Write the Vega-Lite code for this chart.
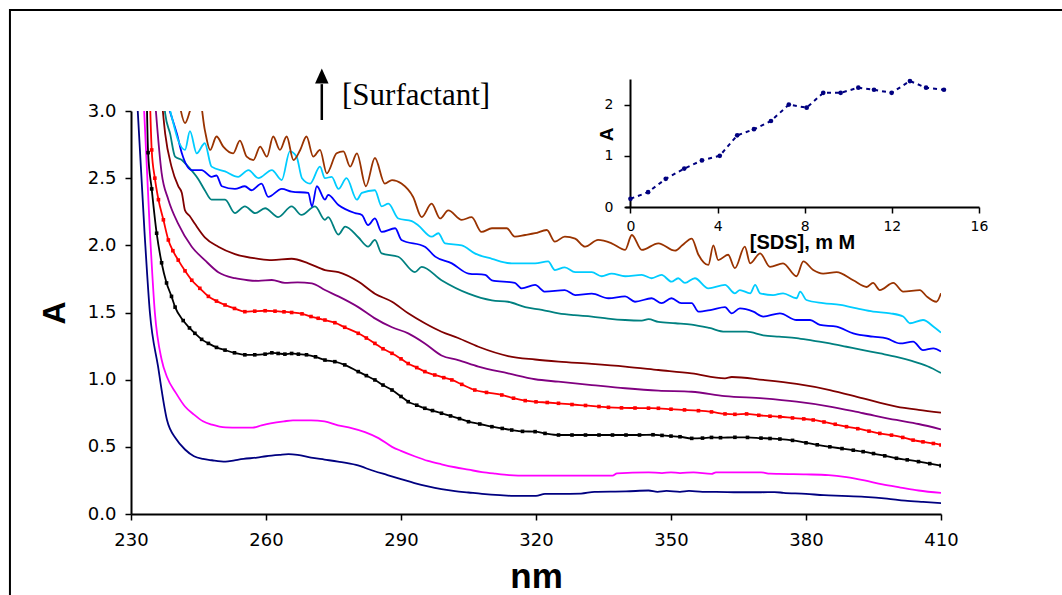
{
"$schema": "https://vega.github.io/schema/vega-lite/v6.json",
"width": 810, "height": 403,
"autosize": {"type": "none"},
"padding": {"left": 131, "top": 111, "right": 121, "bottom": 81},
"background": "white",
"config": {"view": {"stroke": null}, "axis": {"grid": false, "labelFlush": false, "domainColor": "black", "tickColor": "black", "labelColor": "black", "titleColor": "black", "domainWidth": 2, "tickWidth": 1.5}},
"datasets": {
"border": [{"nm": 203.1, "nm2": 470, "A": 3.752, "A2": -1.2}],
"arrow": [{"nm": 272.4, "A": 2.933, "A2": 3.2}],
"head": [{"nm": 272.4, "A": 3.26}],
"note": [{"nm": 276.9, "A": 3.045, "label": "[Surfactant]"}],
"inset": [
{"sds":0,"abs":0.16},{"sds":0.81,"abs":0.29},{"sds":1.62,"abs":0.55},{"sds":2.47,"abs":0.75},{"sds":3.28,"abs":0.91},{"sds":4.1,"abs":1.0},{"sds":4.9,"abs":1.4},{"sds":5.67,"abs":1.52},{"sds":6.45,"abs":1.68},{"sds":7.27,"abs":2.0},{"sds":8.09,"abs":1.94},{"sds":8.85,"abs":2.23},{"sds":9.65,"abs":2.23},{"sds":10.46,"abs":2.33},{"sds":11.18,"abs":2.29},{"sds":11.99,"abs":2.23},{"sds":12.83,"abs":2.46},{"sds":13.57,"abs":2.33},{"sds":14.39,"abs":2.29}
],
"spec": [
{"c":"1","nm":231,"A":3.3},{"c":"1","nm":233,"A":2.1},{"c":"1","nm":234.2,"A":1.5},{"c":"1","nm":236,"A":1.1},{"c":"1","nm":238,"A":0.7},{"c":"1","nm":240,"A":0.56},{"c":"1","nm":242,"A":0.48},{"c":"1","nm":244,"A":0.43},{"c":"1","nm":246,"A":0.41},{"c":"1","nm":248,"A":0.4},{"c":"1","nm":251,"A":0.39},{"c":"1","nm":253,"A":0.4},{"c":"1","nm":255,"A":0.41},{"c":"1","nm":258,"A":0.42},{"c":"1","nm":260,"A":0.43},{"c":"1","nm":263,"A":0.44},{"c":"1","nm":265,"A":0.445},{"c":"1","nm":267,"A":0.44},{"c":"1","nm":270,"A":0.42},{"c":"1","nm":273,"A":0.405},{"c":"1","nm":276,"A":0.39},{"c":"1","nm":280,"A":0.365},{"c":"1","nm":284,"A":0.32},{"c":"1","nm":287,"A":0.29},{"c":"1","nm":290,"A":0.26},{"c":"1","nm":293,"A":0.23},{"c":"1","nm":296,"A":0.205},{"c":"1","nm":299,"A":0.185},{"c":"1","nm":302,"A":0.17},{"c":"1","nm":305,"A":0.16},{"c":"1","nm":308,"A":0.15},{"c":"1","nm":312,"A":0.14},{"c":"1","nm":315,"A":0.135},{"c":"1","nm":320,"A":0.135},{"c":"1","nm":322,"A":0.15},{"c":"1","nm":325,"A":0.15},{"c":"1","nm":330,"A":0.152},{"c":"1","nm":333,"A":0.165},{"c":"1","nm":340,"A":0.168},{"c":"1","nm":345,"A":0.175},{"c":"1","nm":347,"A":0.165},{"c":"1","nm":349,"A":0.172},{"c":"1","nm":352,"A":0.165},{"c":"1","nm":354,"A":0.172},{"c":"1","nm":357,"A":0.165},{"c":"1","nm":360,"A":0.165},{"c":"1","nm":365,"A":0.162},{"c":"1","nm":370,"A":0.162},{"c":"1","nm":373,"A":0.163},{"c":"1","nm":375,"A":0.158},{"c":"1","nm":380,"A":0.15},{"c":"1","nm":384,"A":0.14},{"c":"1","nm":388,"A":0.135},{"c":"1","nm":393,"A":0.128},{"c":"1","nm":398,"A":0.115},{"c":"1","nm":402,"A":0.1},{"c":"1","nm":406,"A":0.09},{"c":"1","nm":410.5,"A":0.08},
{"c":"2","nm":232.5,"A":3.3},{"c":"2","nm":234.2,"A":2.1},{"c":"2","nm":235.3,"A":1.5},{"c":"2","nm":236.8,"A":1.15},{"c":"2","nm":238,"A":1.02},{"c":"2","nm":240,"A":0.9},{"c":"2","nm":242,"A":0.8},{"c":"2","nm":244,"A":0.74},{"c":"2","nm":246,"A":0.69},{"c":"2","nm":248,"A":0.665},{"c":"2","nm":251,"A":0.645},{"c":"2","nm":254,"A":0.643},{"c":"2","nm":257,"A":0.643},{"c":"2","nm":259,"A":0.66},{"c":"2","nm":261,"A":0.675},{"c":"2","nm":264,"A":0.69},{"c":"2","nm":266,"A":0.697},{"c":"2","nm":270,"A":0.697},{"c":"2","nm":273,"A":0.69},{"c":"2","nm":276,"A":0.66},{"c":"2","nm":279,"A":0.64},{"c":"2","nm":282,"A":0.61},{"c":"2","nm":285,"A":0.565},{"c":"2","nm":288,"A":0.5},{"c":"2","nm":290,"A":0.47},{"c":"2","nm":293,"A":0.43},{"c":"2","nm":296,"A":0.395},{"c":"2","nm":299,"A":0.37},{"c":"2","nm":302,"A":0.348},{"c":"2","nm":305,"A":0.33},{"c":"2","nm":308,"A":0.312},{"c":"2","nm":311,"A":0.3},{"c":"2","nm":314,"A":0.29},{"c":"2","nm":318,"A":0.285},{"c":"2","nm":325,"A":0.285},{"c":"2","nm":337,"A":0.285},{"c":"2","nm":338,"A":0.302},{"c":"2","nm":345,"A":0.31},{"c":"2","nm":348,"A":0.305},{"c":"2","nm":350,"A":0.31},{"c":"2","nm":352,"A":0.305},{"c":"2","nm":355,"A":0.31},{"c":"2","nm":359,"A":0.298},{"c":"2","nm":360,"A":0.31},{"c":"2","nm":366,"A":0.31},{"c":"2","nm":370,"A":0.31},{"c":"2","nm":372,"A":0.3},{"c":"2","nm":374,"A":0.298},{"c":"2","nm":380,"A":0.295},{"c":"2","nm":385,"A":0.29},{"c":"2","nm":389,"A":0.275},{"c":"2","nm":393,"A":0.25},{"c":"2","nm":397,"A":0.22},{"c":"2","nm":401,"A":0.197},{"c":"2","nm":405,"A":0.175},{"c":"2","nm":410.5,"A":0.155},
{"c":"3","nm":233.5,"A":3.1},{"c":"3","nm":233.8,"A":2.69},{"c":"3","nm":234.6,"A":2.42},{"c":"3","nm":235.7,"A":2.09},{"c":"3","nm":236.8,"A":1.87},{"c":"3","nm":237.9,"A":1.72},{"c":"3","nm":239,"A":1.62},{"c":"3","nm":239.8,"A":1.54},{"c":"3","nm":241.6,"A":1.44},{"c":"3","nm":243,"A":1.385},{"c":"3","nm":244.2,"A":1.345},{"c":"3","nm":245.7,"A":1.3},{"c":"3","nm":247.2,"A":1.27},{"c":"3","nm":249,"A":1.24},{"c":"3","nm":250.9,"A":1.22},{"c":"3","nm":253,"A":1.2},{"c":"3","nm":255.3,"A":1.185},{"c":"3","nm":257.5,"A":1.185},{"c":"3","nm":259.8,"A":1.19},{"c":"3","nm":261.3,"A":1.2},{"c":"3","nm":262.7,"A":1.195},{"c":"3","nm":264.2,"A":1.19},{"c":"3","nm":265.7,"A":1.195},{"c":"3","nm":267.2,"A":1.19},{"c":"3","nm":269,"A":1.185},{"c":"3","nm":271,"A":1.17},{"c":"3","nm":273.1,"A":1.146},{"c":"3","nm":275.3,"A":1.134},{"c":"3","nm":277.5,"A":1.11},{"c":"3","nm":280.5,"A":1.06},{"c":"3","nm":282.3,"A":1.03},{"c":"3","nm":284.2,"A":0.998},{"c":"3","nm":286,"A":0.96},{"c":"3","nm":288,"A":0.923},{"c":"3","nm":290,"A":0.875},{"c":"3","nm":291.6,"A":0.836},{"c":"3","nm":293.5,"A":0.81},{"c":"3","nm":295.3,"A":0.787},{"c":"3","nm":297,"A":0.77},{"c":"3","nm":299,"A":0.75},{"c":"3","nm":301,"A":0.73},{"c":"3","nm":303,"A":0.71},{"c":"3","nm":305,"A":0.687},{"c":"3","nm":307.5,"A":0.67},{"c":"3","nm":310.2,"A":0.65},{"c":"3","nm":312.5,"A":0.637},{"c":"3","nm":314.6,"A":0.625},{"c":"3","nm":317,"A":0.615},{"c":"3","nm":319.8,"A":0.613},{"c":"3","nm":322,"A":0.6},{"c":"3","nm":325,"A":0.588},{"c":"3","nm":328,"A":0.588},{"c":"3","nm":331,"A":0.588},{"c":"3","nm":334,"A":0.588},{"c":"3","nm":337,"A":0.588},{"c":"3","nm":340,"A":0.588},{"c":"3","nm":343,"A":0.588},{"c":"3","nm":346,"A":0.59},{"c":"3","nm":348,"A":0.585},{"c":"3","nm":350,"A":0.58},{"c":"3","nm":352,"A":0.575},{"c":"3","nm":354.6,"A":0.563},{"c":"3","nm":357,"A":0.565},{"c":"3","nm":359,"A":0.57},{"c":"3","nm":361,"A":0.568},{"c":"3","nm":364.2,"A":0.571},{"c":"3","nm":367,"A":0.57},{"c":"3","nm":370,"A":0.565},{"c":"3","nm":372,"A":0.562},{"c":"3","nm":374.2,"A":0.558},{"c":"3","nm":377,"A":0.548},{"c":"3","nm":380,"A":0.53},{"c":"3","nm":382.5,"A":0.515},{"c":"3","nm":385.3,"A":0.5},{"c":"3","nm":388,"A":0.487},{"c":"3","nm":390.5,"A":0.475},{"c":"3","nm":392.7,"A":0.464},{"c":"3","nm":395,"A":0.45},{"c":"3","nm":397.5,"A":0.433},{"c":"3","nm":400.1,"A":0.415},{"c":"3","nm":402.5,"A":0.403},{"c":"3","nm":405,"A":0.39},{"c":"3","nm":407.5,"A":0.375},{"c":"3","nm":410,"A":0.36},
{"c":"4","nm":234.2,"A":3.1},{"c":"4","nm":234.6,"A":2.71},{"c":"4","nm":235.3,"A":2.5},{"c":"4","nm":236.1,"A":2.34},{"c":"4","nm":237.2,"A":2.19},{"c":"4","nm":238.3,"A":2.04},{"c":"4","nm":239.3,"A":1.96},{"c":"4","nm":240.5,"A":1.89},{"c":"4","nm":242,"A":1.81},{"c":"4","nm":243.5,"A":1.74},{"c":"4","nm":245.3,"A":1.68},{"c":"4","nm":247.2,"A":1.62},{"c":"4","nm":249,"A":1.585},{"c":"4","nm":250.9,"A":1.556},{"c":"4","nm":253,"A":1.53},{"c":"4","nm":255.3,"A":1.506},{"c":"4","nm":257.5,"A":1.51},{"c":"4","nm":259.8,"A":1.513},{"c":"4","nm":262,"A":1.51},{"c":"4","nm":264,"A":1.505},{"c":"4","nm":265.7,"A":1.5},{"c":"4","nm":268,"A":1.49},{"c":"4","nm":270,"A":1.47},{"c":"4","nm":271.6,"A":1.457},{"c":"4","nm":273.1,"A":1.444},{"c":"4","nm":275.3,"A":1.424},{"c":"4","nm":277.5,"A":1.39},{"c":"4","nm":280.5,"A":1.345},{"c":"4","nm":282.3,"A":1.31},{"c":"4","nm":284.2,"A":1.27},{"c":"4","nm":286,"A":1.23},{"c":"4","nm":288,"A":1.196},{"c":"4","nm":290,"A":1.155},{"c":"4","nm":291.6,"A":1.12},{"c":"4","nm":293.5,"A":1.09},{"c":"4","nm":295.3,"A":1.06},{"c":"4","nm":297.5,"A":1.035},{"c":"4","nm":299.5,"A":1.015},{"c":"4","nm":301.3,"A":0.998},{"c":"4","nm":303.5,"A":0.965},{"c":"4","nm":306.4,"A":0.923},{"c":"4","nm":309,"A":0.905},{"c":"4","nm":312.4,"A":0.886},{"c":"4","nm":315,"A":0.862},{"c":"4","nm":317.6,"A":0.844},{"c":"4","nm":320,"A":0.835},{"c":"4","nm":322.5,"A":0.83},{"c":"4","nm":325,"A":0.824},{"c":"4","nm":328,"A":0.815},{"c":"4","nm":331,"A":0.808},{"c":"4","nm":334,"A":0.8},{"c":"4","nm":336.1,"A":0.794},{"c":"4","nm":339,"A":0.79},{"c":"4","nm":342,"A":0.789},{"c":"4","nm":345,"A":0.788},{"c":"4","nm":347.2,"A":0.787},{"c":"4","nm":350,"A":0.78},{"c":"4","nm":353,"A":0.775},{"c":"4","nm":356.1,"A":0.769},{"c":"4","nm":359,"A":0.76},{"c":"4","nm":362,"A":0.745},{"c":"4","nm":364.2,"A":0.742},{"c":"4","nm":366.8,"A":0.745},{"c":"4","nm":369.5,"A":0.735},{"c":"4","nm":372,"A":0.728},{"c":"4","nm":374.2,"A":0.724},{"c":"4","nm":377,"A":0.715},{"c":"4","nm":379.5,"A":0.708},{"c":"4","nm":381.6,"A":0.7},{"c":"4","nm":384,"A":0.685},{"c":"4","nm":386.5,"A":0.668},{"c":"4","nm":389,"A":0.65},{"c":"4","nm":391.5,"A":0.635},{"c":"4","nm":394,"A":0.617},{"c":"4","nm":396.4,"A":0.6},{"c":"4","nm":399,"A":0.587},{"c":"4","nm":401.5,"A":0.57},{"c":"4","nm":403.8,"A":0.55},{"c":"4","nm":406,"A":0.537},{"c":"4","nm":408.3,"A":0.525},{"c":"4","nm":410,"A":0.514},
{"c":"5","nm":235.3,"A":3.1},{"c":"5","nm":236.8,"A":2.54},{"c":"5","nm":238.3,"A":2.34},{"c":"5","nm":240.5,"A":2.16},{"c":"5","nm":243.5,"A":1.99},{"c":"5","nm":246.4,"A":1.89},{"c":"5","nm":249.4,"A":1.8},{"c":"5","nm":253.1,"A":1.755},{"c":"5","nm":256,"A":1.74},{"c":"5","nm":258.3,"A":1.735},{"c":"5","nm":261.3,"A":1.742},{"c":"5","nm":264.2,"A":1.72},{"c":"5","nm":267,"A":1.725},{"c":"5","nm":270.2,"A":1.717},{"c":"5","nm":273.1,"A":1.667},{"c":"5","nm":276.1,"A":1.62},{"c":"5","nm":280.5,"A":1.54},{"c":"5","nm":284,"A":1.46},{"c":"5","nm":288,"A":1.39},{"c":"5","nm":291.6,"A":1.345},{"c":"5","nm":295.3,"A":1.27},{"c":"5","nm":299,"A":1.18},{"c":"5","nm":302.7,"A":1.146},{"c":"5","nm":307.2,"A":1.097},{"c":"5","nm":313.8,"A":1.047},{"c":"5","nm":319.8,"A":1.003},{"c":"5","nm":325,"A":0.985},{"c":"5","nm":332.4,"A":0.96},{"c":"5","nm":339.8,"A":0.936},{"c":"5","nm":347.2,"A":0.918},{"c":"5","nm":354.6,"A":0.91},{"c":"5","nm":362,"A":0.878},{"c":"5","nm":370.5,"A":0.86},{"c":"5","nm":377.9,"A":0.836},{"c":"5","nm":385.3,"A":0.8},{"c":"5","nm":392.7,"A":0.75},{"c":"5","nm":400.1,"A":0.7},{"c":"5","nm":405,"A":0.67},{"c":"5","nm":410,"A":0.63},
{"c":"6","nm":236.8,"A":3.1},{"c":"6","nm":237.6,"A":2.83},{"c":"6","nm":239,"A":2.586},{"c":"6","nm":240.5,"A":2.44},{"c":"6","nm":241.3,"A":2.39},{"c":"6","nm":242,"A":2.26},{"c":"6","nm":243,"A":2.22},{"c":"6","nm":244.2,"A":2.16},{"c":"6","nm":246.4,"A":2.06},{"c":"6","nm":249.4,"A":1.99},{"c":"6","nm":253.1,"A":1.935},{"c":"6","nm":258.3,"A":1.9},{"c":"6","nm":261.3,"A":1.89},{"c":"6","nm":265.7,"A":1.9},{"c":"6","nm":269.4,"A":1.866},{"c":"6","nm":273.1,"A":1.816},{"c":"6","nm":276.1,"A":1.8},{"c":"6","nm":280.5,"A":1.73},{"c":"6","nm":284.2,"A":1.64},{"c":"6","nm":288,"A":1.58},{"c":"6","nm":291.6,"A":1.494},{"c":"6","nm":295.3,"A":1.42},{"c":"6","nm":299,"A":1.357},{"c":"6","nm":302.7,"A":1.31},{"c":"6","nm":307.2,"A":1.245},{"c":"6","nm":313.8,"A":1.176},{"c":"6","nm":319.8,"A":1.15},{"c":"6","nm":325,"A":1.134},{"c":"6","nm":332.4,"A":1.117},{"c":"6","nm":339.8,"A":1.097},{"c":"6","nm":347.2,"A":1.072},{"c":"6","nm":354.6,"A":1.047},{"c":"6","nm":362,"A":1.01},{"c":"6","nm":363.5,"A":1.02},{"c":"6","nm":370.5,"A":0.998},{"c":"6","nm":377.9,"A":0.968},{"c":"6","nm":385.3,"A":0.923},{"c":"6","nm":392.7,"A":0.86},{"c":"6","nm":400.1,"A":0.8},{"c":"6","nm":405,"A":0.775},{"c":"6","nm":410,"A":0.754},
{"c":"7","nm":237.3,"A":3.1},{"c":"7","nm":237.6,"A":2.98},{"c":"7","nm":238.7,"A":2.83},{"c":"7","nm":239.8,"A":2.66},{"c":"7","nm":241.3,"A":2.635},{"c":"7","nm":242.7,"A":2.586},{"c":"7","nm":245,"A":2.49},{"c":"7","nm":246.4,"A":2.41},{"c":"7","nm":247.9,"A":2.34},{"c":"7","nm":250.9,"A":2.34},{"c":"7","nm":253.1,"A":2.24},{"c":"7","nm":255.3,"A":2.29},{"c":"7","nm":257.6,"A":2.24},{"c":"7","nm":259.8,"A":2.276},{"c":"7","nm":262.7,"A":2.21},{"c":"7","nm":265.7,"A":2.29},{"c":"7","nm":267.9,"A":2.226},{"c":"7","nm":270.9,"A":2.29},{"c":"7","nm":273.1,"A":2.19},{"c":"7","nm":273.8,"A":2.21},{"c":"7","nm":276.1,"A":2.08},{"c":"7","nm":277.6,"A":2.14},{"c":"7","nm":280.5,"A":2.06},{"c":"7","nm":282.7,"A":1.99},{"c":"7","nm":284.2,"A":2.04},{"c":"7","nm":285.7,"A":1.94},{"c":"7","nm":289.4,"A":1.915},{"c":"7","nm":293.1,"A":1.8},{"c":"7","nm":294.6,"A":1.84},{"c":"7","nm":299,"A":1.74},{"c":"7","nm":305,"A":1.64},{"c":"7","nm":310.2,"A":1.59},{"c":"7","nm":313.8,"A":1.58},{"c":"7","nm":317.6,"A":1.54},{"c":"7","nm":321.3,"A":1.52},{"c":"7","nm":325,"A":1.494},{"c":"7","nm":328.5,"A":1.48},{"c":"7","nm":332.4,"A":1.47},{"c":"7","nm":336,"A":1.455},{"c":"7","nm":339.8,"A":1.444},{"c":"7","nm":343.5,"A":1.44},{"c":"7","nm":345,"A":1.45},{"c":"7","nm":347.2,"A":1.43},{"c":"7","nm":351,"A":1.42},{"c":"7","nm":354.6,"A":1.41},{"c":"7","nm":358.5,"A":1.385},{"c":"7","nm":362,"A":1.357},{"c":"7","nm":366.8,"A":1.357},{"c":"7","nm":370.5,"A":1.33},{"c":"7","nm":374,"A":1.32},{"c":"7","nm":377.9,"A":1.31},{"c":"7","nm":381.5,"A":1.29},{"c":"7","nm":385.3,"A":1.27},{"c":"7","nm":389,"A":1.245},{"c":"7","nm":392.7,"A":1.22},{"c":"7","nm":396.5,"A":1.195},{"c":"7","nm":400.1,"A":1.17},{"c":"7","nm":403.5,"A":1.14},{"c":"7","nm":407,"A":1.1},{"c":"7","nm":410,"A":1.05},
{"c":"8","nm":237.6,"A":3.1},{"c":"8","nm":239,"A":2.96},{"c":"8","nm":240.2,"A":2.83},{"c":"8","nm":241.3,"A":2.685},{"c":"8","nm":243.5,"A":2.56},{"c":"8","nm":245.7,"A":2.56},{"c":"8","nm":247.9,"A":2.51},{"c":"8","nm":249,"A":2.52},{"c":"8","nm":250.2,"A":2.44},{"c":"8","nm":253.1,"A":2.42},{"c":"8","nm":255.3,"A":2.44},{"c":"8","nm":256.8,"A":2.41},{"c":"8","nm":259,"A":2.46},{"c":"8","nm":260.5,"A":2.36},{"c":"8","nm":263.5,"A":2.42},{"c":"8","nm":265.7,"A":2.4},{"c":"8","nm":269.4,"A":2.39},{"c":"8","nm":270.2,"A":2.29},{"c":"8","nm":271.3,"A":2.44},{"c":"8","nm":273.1,"A":2.34},{"c":"8","nm":273.8,"A":2.375},{"c":"8","nm":276.1,"A":2.3},{"c":"8","nm":279.8,"A":2.24},{"c":"8","nm":281.3,"A":2.226},{"c":"8","nm":282.7,"A":2.15},{"c":"8","nm":284.2,"A":2.2},{"c":"8","nm":285.7,"A":2.1},{"c":"8","nm":288.7,"A":2.127},{"c":"8","nm":290.1,"A":2.04},{"c":"8","nm":295.3,"A":1.99},{"c":"8","nm":297.6,"A":1.916},{"c":"8","nm":301.3,"A":1.866},{"c":"8","nm":305,"A":1.79},{"c":"8","nm":308.7,"A":1.78},{"c":"8","nm":310.2,"A":1.74},{"c":"8","nm":315.3,"A":1.72},{"c":"8","nm":316.8,"A":1.68},{"c":"8","nm":319.8,"A":1.705},{"c":"8","nm":322,"A":1.655},{"c":"8","nm":326.4,"A":1.667},{"c":"8","nm":328.7,"A":1.63},{"c":"8","nm":332.4,"A":1.64},{"c":"8","nm":336.1,"A":1.606},{"c":"8","nm":339.8,"A":1.62},{"c":"8","nm":342,"A":1.58},{"c":"8","nm":345.7,"A":1.606},{"c":"8","nm":347.9,"A":1.57},{"c":"8","nm":350.1,"A":1.606},{"c":"8","nm":352.3,"A":1.57},{"c":"8","nm":354.6,"A":1.57},{"c":"8","nm":356.1,"A":1.506},{"c":"8","nm":359,"A":1.52},{"c":"8","nm":362,"A":1.54},{"c":"8","nm":363.5,"A":1.494},{"c":"8","nm":365.3,"A":1.53},{"c":"8","nm":368.3,"A":1.506},{"c":"8","nm":370.5,"A":1.47},{"c":"8","nm":374.2,"A":1.494},{"c":"8","nm":377.9,"A":1.444},{"c":"8","nm":380.9,"A":1.444},{"c":"8","nm":383.1,"A":1.407},{"c":"8","nm":386.8,"A":1.394},{"c":"8","nm":390.5,"A":1.345},{"c":"8","nm":394.9,"A":1.32},{"c":"8","nm":397.9,"A":1.307},{"c":"8","nm":400.9,"A":1.27},{"c":"8","nm":403.8,"A":1.283},{"c":"8","nm":406,"A":1.22},{"c":"8","nm":408.3,"A":1.233},{"c":"8","nm":410,"A":1.21},
{"c":"9","nm":238,"A":3.1},{"c":"9","nm":239.4,"A":2.91},{"c":"9","nm":240.5,"A":2.78},{"c":"9","nm":242,"A":2.71},{"c":"9","nm":243.1,"A":2.85},{"c":"9","nm":244.6,"A":2.685},{"c":"9","nm":246.4,"A":2.76},{"c":"9","nm":247.9,"A":2.586},{"c":"9","nm":250.9,"A":2.55},{"c":"9","nm":253.8,"A":2.51},{"c":"9","nm":256.1,"A":2.56},{"c":"9","nm":258.3,"A":2.5},{"c":"9","nm":261.3,"A":2.56},{"c":"9","nm":263.5,"A":2.486},{"c":"9","nm":265.3,"A":2.7},{"c":"9","nm":266.8,"A":2.66},{"c":"9","nm":268,"A":2.5},{"c":"9","nm":269.8,"A":2.46},{"c":"9","nm":272,"A":2.586},{"c":"9","nm":273.1,"A":2.5},{"c":"9","nm":274.6,"A":2.51},{"c":"9","nm":276.1,"A":2.42},{"c":"9","nm":277.9,"A":2.5},{"c":"9","nm":280.2,"A":2.34},{"c":"9","nm":281.3,"A":2.39},{"c":"9","nm":284.2,"A":2.41},{"c":"9","nm":285.7,"A":2.29},{"c":"9","nm":287.2,"A":2.31},{"c":"9","nm":289.4,"A":2.2},{"c":"9","nm":292.4,"A":2.18},{"c":"9","nm":293.8,"A":2.15},{"c":"9","nm":296.8,"A":2.065},{"c":"9","nm":298.3,"A":2.09},{"c":"9","nm":299.8,"A":2.015},{"c":"9","nm":303.5,"A":2.0},{"c":"9","nm":306.4,"A":1.94},{"c":"9","nm":310.2,"A":1.9},{"c":"9","nm":314.6,"A":1.866},{"c":"9","nm":319.8,"A":1.866},{"c":"9","nm":322.7,"A":1.88},{"c":"9","nm":324.2,"A":1.816},{"c":"9","nm":326.4,"A":1.836},{"c":"9","nm":328.7,"A":1.8},{"c":"9","nm":332.4,"A":1.8},{"c":"9","nm":334.6,"A":1.77},{"c":"9","nm":336.8,"A":1.79},{"c":"9","nm":339.8,"A":1.77},{"c":"9","nm":343.5,"A":1.78},{"c":"9","nm":345.7,"A":1.755},{"c":"9","nm":347.9,"A":1.78},{"c":"9","nm":350.1,"A":1.73},{"c":"9","nm":351.6,"A":1.755},{"c":"9","nm":353.1,"A":1.72},{"c":"9","nm":355.3,"A":1.755},{"c":"9","nm":358.3,"A":1.68},{"c":"9","nm":362,"A":1.705},{"c":"9","nm":364.2,"A":1.643},{"c":"9","nm":365.3,"A":1.667},{"c":"9","nm":367.6,"A":1.643},{"c":"9","nm":368.7,"A":1.705},{"c":"9","nm":369.8,"A":1.643},{"c":"9","nm":372.7,"A":1.63},{"c":"9","nm":374.9,"A":1.643},{"c":"9","nm":377.9,"A":1.606},{"c":"9","nm":378.7,"A":1.655},{"c":"9","nm":380.1,"A":1.593},{"c":"9","nm":383.8,"A":1.57},{"c":"9","nm":387.6,"A":1.556},{"c":"9","nm":391.3,"A":1.53},{"c":"9","nm":394.9,"A":1.506},{"c":"9","nm":398.7,"A":1.494},{"c":"9","nm":401.6,"A":1.47},{"c":"9","nm":403.1,"A":1.42},{"c":"9","nm":406,"A":1.444},{"c":"9","nm":408.5,"A":1.39},{"c":"9","nm":410,"A":1.35},
{"c":"10","nm":240.5,"A":3.1},{"c":"10","nm":240.9,"A":3.03},{"c":"10","nm":242,"A":2.91},{"c":"10","nm":243.1,"A":3.0},{"c":"10","nm":244,"A":3.1},{"c":"10","nm":245.2,"A":3.1},{"c":"10","nm":246.4,"A":2.86},{"c":"10","nm":247.6,"A":2.71},{"c":"10","nm":249,"A":2.81},{"c":"10","nm":250.5,"A":2.735},{"c":"10","nm":252.7,"A":2.685},{"c":"10","nm":254.2,"A":2.78},{"c":"10","nm":255.7,"A":2.66},{"c":"10","nm":257.2,"A":2.635},{"c":"10","nm":258.7,"A":2.735},{"c":"10","nm":260.2,"A":2.66},{"c":"10","nm":261.6,"A":2.81},{"c":"10","nm":263.1,"A":2.71},{"c":"10","nm":264.6,"A":2.81},{"c":"10","nm":266.1,"A":2.635},{"c":"10","nm":267.6,"A":2.71},{"c":"10","nm":269,"A":2.81},{"c":"10","nm":270.5,"A":2.66},{"c":"10","nm":272,"A":2.71},{"c":"10","nm":273.5,"A":2.536},{"c":"10","nm":275.7,"A":2.685},{"c":"10","nm":277.2,"A":2.7},{"c":"10","nm":278.7,"A":2.586},{"c":"10","nm":280.2,"A":2.685},{"c":"10","nm":282.2,"A":2.44},{"c":"10","nm":284.2,"A":2.65},{"c":"10","nm":286.4,"A":2.46},{"c":"10","nm":288,"A":2.486},{"c":"10","nm":290.1,"A":2.46},{"c":"10","nm":292.7,"A":2.36},{"c":"10","nm":294.6,"A":2.21},{"c":"10","nm":296.8,"A":2.31},{"c":"10","nm":298.7,"A":2.2},{"c":"10","nm":300.5,"A":2.26},{"c":"10","nm":303.5,"A":2.19},{"c":"10","nm":305.7,"A":2.21},{"c":"10","nm":307.9,"A":2.1},{"c":"10","nm":310.2,"A":2.127},{"c":"10","nm":313.5,"A":2.127},{"c":"10","nm":315.3,"A":2.065},{"c":"10","nm":317.6,"A":2.077},{"c":"10","nm":319.8,"A":2.09},{"c":"10","nm":322.4,"A":2.114},{"c":"10","nm":324.2,"A":2.027},{"c":"10","nm":326.4,"A":2.065},{"c":"10","nm":328.7,"A":2.05},{"c":"10","nm":330.9,"A":1.99},{"c":"10","nm":333.8,"A":2.04},{"c":"10","nm":336.8,"A":2.015},{"c":"10","nm":339.8,"A":1.966},{"c":"10","nm":341.3,"A":2.077},{"c":"10","nm":343.5,"A":1.966},{"c":"10","nm":347.2,"A":2.015},{"c":"10","nm":350.9,"A":1.96},{"c":"10","nm":352.5,"A":2.0},{"c":"10","nm":354.6,"A":2.05},{"c":"10","nm":356.1,"A":1.93},{"c":"10","nm":358.3,"A":1.854},{"c":"10","nm":359.4,"A":2.0},{"c":"10","nm":360.5,"A":1.89},{"c":"10","nm":362.7,"A":1.93},{"c":"10","nm":364.2,"A":1.83},{"c":"10","nm":366.4,"A":1.99},{"c":"10","nm":367.6,"A":1.866},{"c":"10","nm":369.8,"A":1.94},{"c":"10","nm":372,"A":1.84},{"c":"10","nm":374.9,"A":1.866},{"c":"10","nm":377.9,"A":1.77},{"c":"10","nm":379.4,"A":1.88},{"c":"10","nm":381.6,"A":1.816},{"c":"10","nm":383.8,"A":1.79},{"c":"10","nm":386.8,"A":1.8},{"c":"10","nm":390.5,"A":1.74},{"c":"10","nm":393.5,"A":1.69},{"c":"10","nm":394.9,"A":1.72},{"c":"10","nm":396.4,"A":1.667},{"c":"10","nm":399.4,"A":1.72},{"c":"10","nm":401.6,"A":1.655},{"c":"10","nm":405.3,"A":1.667},{"c":"10","nm":406.8,"A":1.62},{"c":"10","nm":409,"A":1.58},{"c":"10","nm":410,"A":1.643}
]
},
"layer": [
{
"encoding": {
"x": {"field": "nm", "type": "quantitative", "scale": {"domain": [230, 410], "nice": false, "zero": false},
"axis": {"values": [230, 260, 290, 320, 350, 380, 410], "title": "nm", "orient": "bottom", "labelFlush": false, "labelFont": "DejaVu Sans", "labelFontSize": 18, "labelPadding": 11, "tickSize": 6, "titleFont": "Liberation Sans", "titleFontSize": 35, "titleFontWeight": "bold", "titlePadding": 10}},
"y": {"field": "A", "type": "quantitative", "scale": {"domain": [0, 3], "nice": false, "zero": false},
"axis": {"values": [0, 0.5, 1, 1.5, 2, 2.5, 3], "format": ".1f", "title": "A", "orient": "left", "labelFlush": false, "labelFont": "DejaVu Sans", "labelFontSize": 18, "labelPadding": 9, "tickSize": 6, "titleFont": "Liberation Sans", "titleFontSize": 32, "titleFontWeight": "bold", "titlePadding": 16}}
},
"layer": [
{"data": {"name": "border"}, "mark": {"type": "rect", "fillOpacity": 0, "stroke": "black", "strokeWidth": 2},
"encoding": {"x2": {"field": "nm2"}, "y2": {"field": "A2"}}},
{"data": {"name": "spec"}, "mark": {"type": "line", "clip": true, "strokeWidth": 1.8, "interpolate": "monotone"},
"encoding": {"color": {"field": "c", "type": "nominal", "legend": null,
"scale": {"domain": ["1","2","3","4","5","6","7","8","9","10"], "range": ["#000080","#FF00FF","#000000","#FF0000","#800080","#800000","#008080","#0000FF","#00CCFF","#993300"]}}}},
{"data": {"name": "spec"}, "transform": [{"filter": "datum.c == '3' || datum.c == '4'"}],
"mark": {"type": "point", "shape": "square", "filled": true, "size": 13, "opacity": 1, "clip": true},
"encoding": {"color": {"field": "c", "type": "nominal", "legend": null}}},
{"data": {"name": "arrow"}, "mark": {"type": "rule", "color": "black", "strokeWidth": 2.5},
"encoding": {"y2": {"field": "A2"}}},
{"data": {"name": "head"}, "mark": {"type": "point", "shape": "M-0.9,1L0,-1L0.9,1Z", "filled": true, "size": 225, "color": "black", "opacity": 1}},
{"data": {"name": "note"}, "mark": {"type": "text", "font": "Liberation Serif", "fontSize": 31, "align": "left", "baseline": "alphabetic", "color": "black"},
"encoding": {"text": {"field": "label"}}}
]
},
{
"data": {"name": "inset"},
"encoding": {
"x": {"field": "sds", "type": "quantitative", "scale": {"domain": [-0.25, 16], "range": [494, 848], "nice": false, "zero": false},
"axis": {"orient": "bottom", "offset": -307, "values": [0, 4, 8, 12, 16], "title": "[SDS], m M", "labelFlush": false, "labelFont": "DejaVu Sans", "labelFontSize": 14, "labelPadding": 6, "tickSize": 6, "titleFont": "Liberation Sans", "titleFontSize": 20, "titleFontWeight": "bold", "titleBaseline": "alphabetic", "titleY": 41}},
"y": {"field": "abs", "type": "quantitative", "scale": {"domain": [0, 2.5], "range": [96, -32], "nice": false, "zero": false},
"axis": {"orient": "left", "offset": -499, "values": [0, 1, 2], "title": "A", "labelFlush": false, "labelFont": "DejaVu Sans", "labelFontSize": 14, "labelPadding": 11, "tickSize": 6, "titleFont": "Liberation Sans", "titleFontSize": 19, "titleFontWeight": "bold", "titleBaseline": "middle", "titleX": -24, "titleY": 23}}
},
"layer": [
{"mark": {"type": "line", "color": "#000080", "strokeWidth": 2, "strokeDash": [4, 4]}},
{"mark": {"type": "point", "filled": true, "size": 22, "color": "#000080", "opacity": 1}}
]
}
],
"resolve": {"scale": {"x": "independent", "y": "independent", "color": "shared"}, "axis": {"x": "independent", "y": "independent"}}
}
